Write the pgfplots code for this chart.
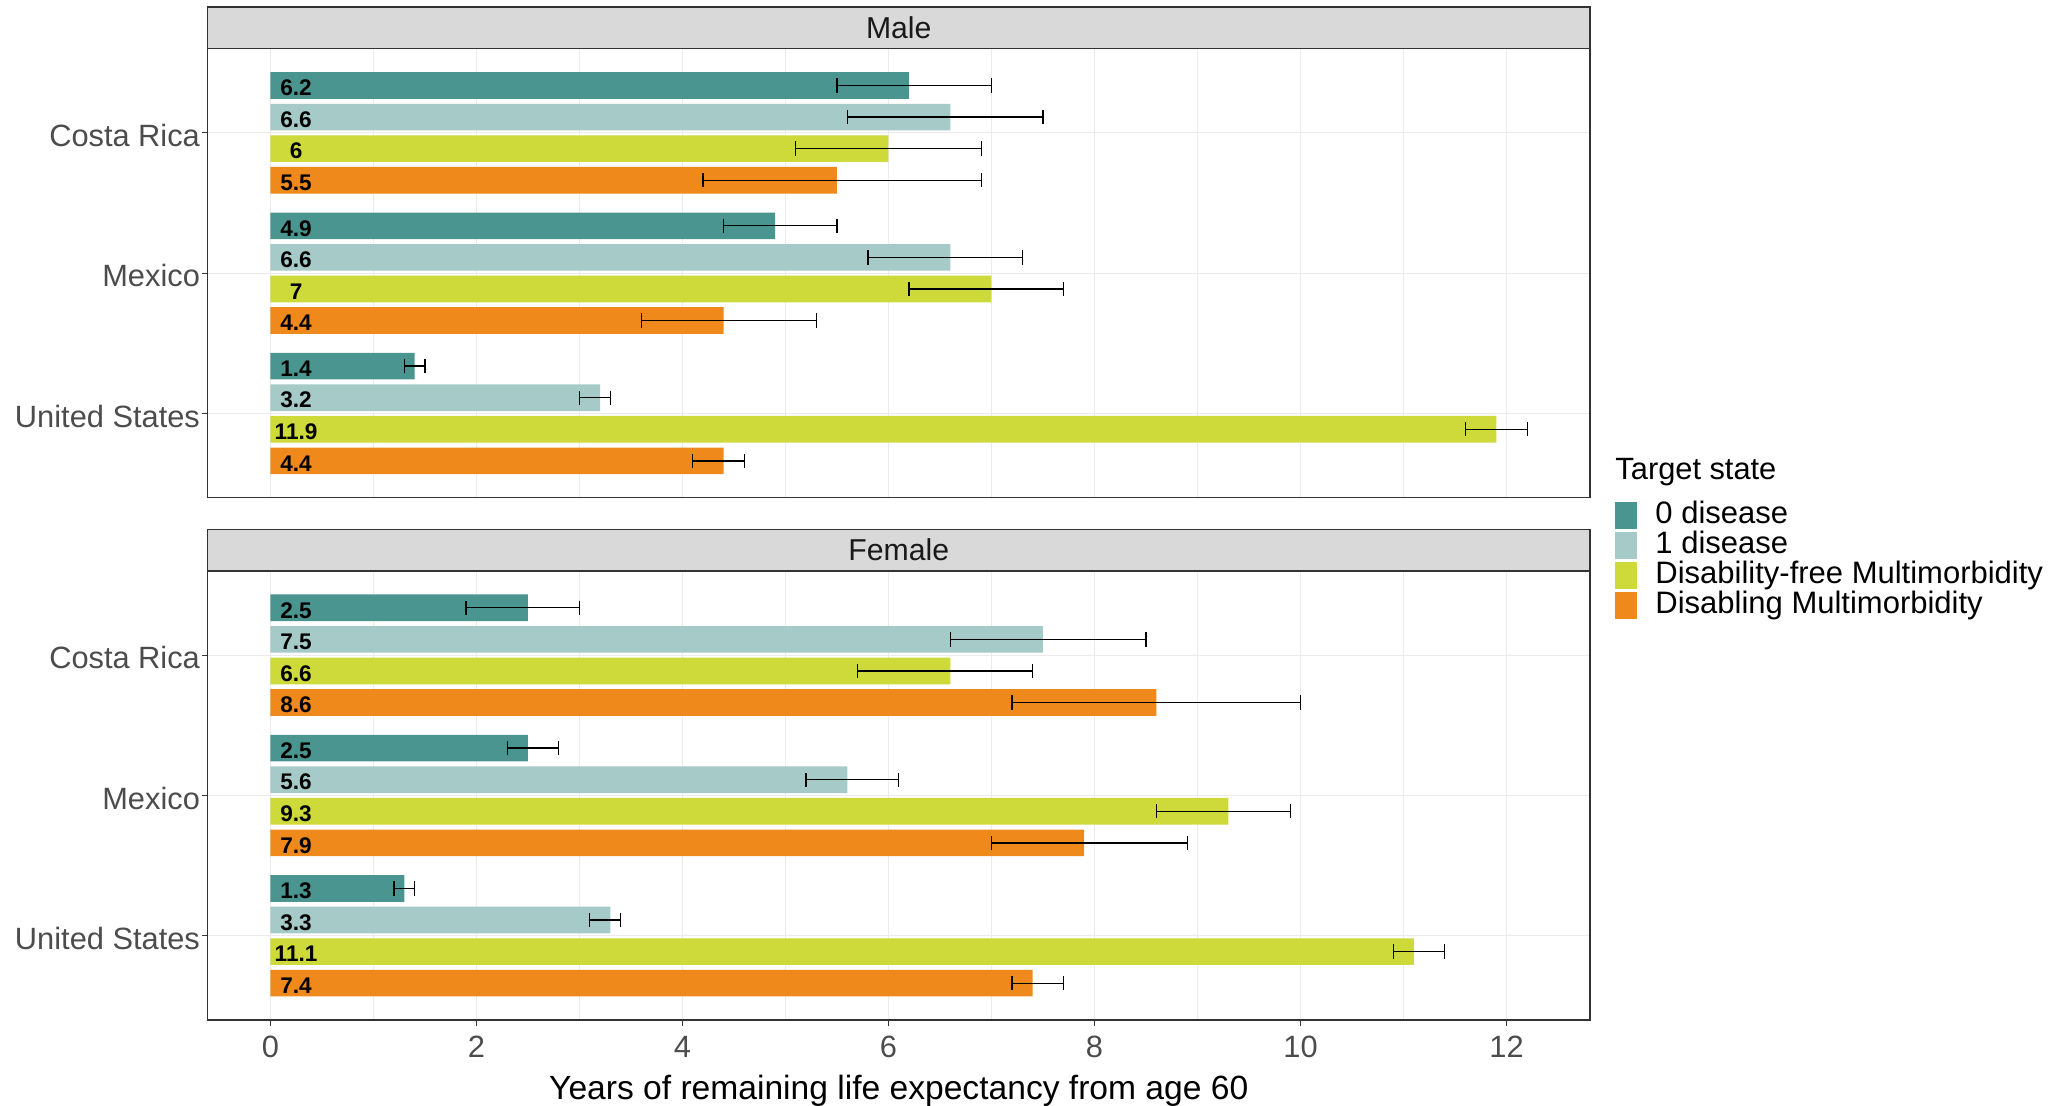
\documentclass[border=0pt]{standalone}
\usepackage{fontspec}
\setmainfont{Liberation Sans}
\usepackage{pgfplots}
\pgfplotsset{compat=1.18}
\definecolor{c0}{HTML}{4A958F}
\definecolor{c1}{HTML}{A6CAC7}
\definecolor{c2}{HTML}{CED93A}
\definecolor{c3}{HTML}{F0891B}
\definecolor{gridc}{HTML}{EBEBEB}
\newcommand\fs[1]{\fontsize{#1}{#1}\selectfont}
\pgfplotsset{
  panel/.style={
    scale only axis, width=691.25pt, height=224.5pt,
    xmin=-0.61, xmax=12.81, ymin=0.4, ymax=3.6,
    xtick={0,2,...,12}, minor xtick={1,3,...,11},
    ytick={1,2,3}, yticklabels={United States,Mexico,Costa Rica},
    xtick pos=lower, ytick pos=left,
    grid=both,
    major grid style={gridc, line width=0.55pt},
    minor grid style={gridc, line width=0.3pt},
    axis line style={black!80, line width=0.7pt},
    tick align=outside, major tick length=3pt, minor tick length=0pt,
    tick style={black!80, line width=0.6pt},
    ticklabel style={font=\fs{15.4}, text=black!70, inner sep=0pt},
    yticklabel style={xshift=-0.6pt, yshift=-1.3pt},
    xticklabel style={yshift=-5pt},
    /pgf/number format/assume math mode=true,
    clip=false,
  },
  bars/.style={xbar, bar width=0.19, bar shift=0pt, draw=none, fill=#1, forget plot,
    error bars/.cd, x dir=both, x explicit, error mark=|,
    error bar style={black, line width=0.65pt},
    error mark options={black, line width=0.65pt, mark size=3.6pt}},
  labs/.style={draw=none, mark=none, forget plot, nodes near coords, point meta=explicit symbolic,
    every node near coord/.append style={anchor=center, font=\bfseries\fs{11.3}, text=black, yshift=-1.2pt}},
}
\begin{document}
\begin{tikzpicture}
\path[use as bounding box] (0,0) rectangle (1029.5pt,553pt);
% ---------------- Male ----------------
\begin{axis}[panel, at={(103.75pt,304.15pt)}, anchor=south west,
  xticklabels={}, major x tick style={draw=none},
  legend style={at={(axis description cs:1.0181,-0.0075)}, anchor=north west,
    draw=none, fill=none, inner sep=0pt, row sep=0.6pt, column sep=9pt,
    font=\fs{15.5}, nodes={inner sep=0pt, text height=10.8pt, text depth=3.6pt}},
  legend cell align=left,
  legend image code/.code={\fill[#1] (0pt,-6.8pt) rectangle (11pt,6.8pt);},
]
\addplot[bars=c0] coordinates {(6.2,3.3375) += (0.8,0) -= (0.7,0) (4.9,2.3375) += (0.6,0) -= (0.5,0) (1.4,1.3375) += (0.1,0) -= (0.1,0)};
\addplot[bars=c1] coordinates {(6.6,3.1125) += (0.9,0) -= (1.0,0) (6.6,2.1125) += (0.7,0) -= (0.8,0) (3.2,1.1125) += (0.1,0) -= (0.2,0)};
\addplot[bars=c2] coordinates {(6.0,2.8875) += (0.9,0) -= (0.9,0) (7.0,1.8875) += (0.7,0) -= (0.8,0) (11.9,0.8875) += (0.3,0) -= (0.3,0)};
\addplot[bars=c3] coordinates {(5.5,2.6625) += (1.4,0) -= (1.3,0) (4.4,1.6625) += (0.9,0) -= (0.8,0) (4.4,0.6625) += (0.2,0) -= (0.3,0)};
\addplot[labs] coordinates {(0.25,3.3375)[6.2] (0.25,3.1125)[6.6] (0.25,2.8875)[6] (0.25,2.6625)[5.5]
 (0.25,2.3375)[4.9] (0.25,2.1125)[6.6] (0.25,1.8875)[7] (0.25,1.6625)[4.4]
 (0.25,1.3375)[1.4] (0.25,1.1125)[3.2] (0.25,0.8875)[11.9] (0.25,0.6625)[4.4]};
\addlegendimage{fill=c0, draw=none}\addlegendentry{0 disease}
\addlegendimage{fill=c1, draw=none}\addlegendentry{1 disease}
\addlegendimage{fill=c2, draw=none}\addlegendentry{Disability-free Multimorbidity}
\addlegendimage{fill=c3, draw=none}\addlegendentry{Disabling Multimorbidity}
\draw[black!80, line width=0.7pt, fill=black!15] (rel axis cs:0,1) rectangle ([yshift=20.75pt]rel axis cs:1,1);
\node[font=\fs{15.1}, text=black!90] at ([yshift=10.4pt]rel axis cs:0.5,1) {Male};
\node[anchor=west, inner sep=0pt, font=\fs{15.4}] at (axis description cs:1.0181,0.058) {Target state};
\end{axis}
% ---------------- Female ----------------
\begin{axis}[panel, at={(103.75pt,43pt)}, anchor=south west,
  xlabel={Years of remaining life expectancy from age 60},
  xlabel style={font=\fs{16.8}, text=black, at={(axis description cs:0.5,0)}, anchor=center, yshift=-35.6pt},
]
\addplot[bars=c0] coordinates {(2.5,3.3375) += (0.5,0) -= (0.6,0) (2.5,2.3375) += (0.3,0) -= (0.2,0) (1.3,1.3375) += (0.1,0) -= (0.1,0)};
\addplot[bars=c1] coordinates {(7.5,3.1125) += (1.0,0) -= (0.9,0) (5.6,2.1125) += (0.5,0) -= (0.4,0) (3.3,1.1125) += (0.1,0) -= (0.2,0)};
\addplot[bars=c2] coordinates {(6.6,2.8875) += (0.8,0) -= (0.9,0) (9.3,1.8875) += (0.6,0) -= (0.7,0) (11.1,0.8875) += (0.3,0) -= (0.2,0)};
\addplot[bars=c3] coordinates {(8.6,2.6625) += (1.4,0) -= (1.4,0) (7.9,1.6625) += (1.0,0) -= (0.9,0) (7.4,0.6625) += (0.3,0) -= (0.2,0)};
\addplot[labs] coordinates {(0.25,3.3375)[2.5] (0.25,3.1125)[7.5] (0.25,2.8875)[6.6] (0.25,2.6625)[8.6]
 (0.25,2.3375)[2.5] (0.25,2.1125)[5.6] (0.25,1.8875)[9.3] (0.25,1.6625)[7.9]
 (0.25,1.3375)[1.3] (0.25,1.1125)[3.3] (0.25,0.8875)[11.1] (0.25,0.6625)[7.4]};
\draw[black!80, line width=0.7pt, fill=black!15] (rel axis cs:0,1) rectangle ([yshift=20.75pt]rel axis cs:1,1);
\node[font=\fs{15.1}, text=black!90] at ([yshift=10.4pt]rel axis cs:0.5,1) {Female};
\end{axis}
\end{tikzpicture}
\end{document}
